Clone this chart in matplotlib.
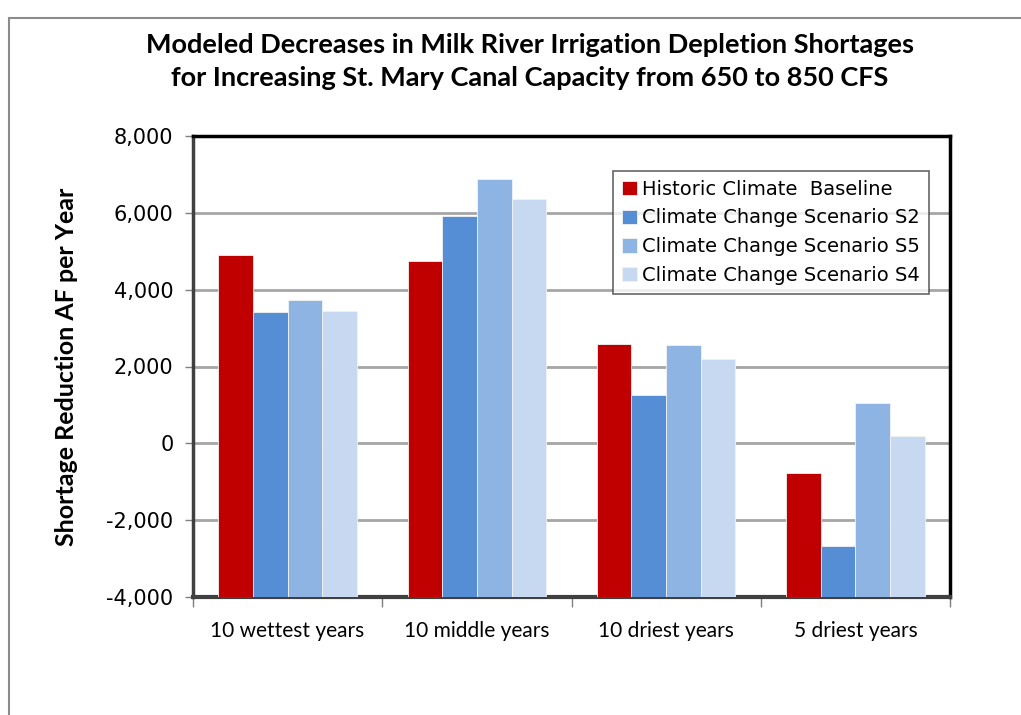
import matplotlib
matplotlib.use("Agg")
import matplotlib.pyplot as plt
import numpy as np
from matplotlib.ticker import FuncFormatter, FixedLocator

categories = ["10 wettest years", "10 middle years", "10 driest years", "5 driest years"]
series_names = ["Historic Climate  Baseline", "Climate Change Scenario S2",
                "Climate Change Scenario S5", "Climate Change Scenario S4"]
historic = [4900, 4750, 2590, -770]
s2 = [3430, 5920, 1260, -2670]
s5 = [3730, 6890, 2560, 1060]
s4 = [3450, 6350, 2190, 190]
colors = ["#C00000", "#558ED5", "#8EB4E3", "#C6D9F1"]
yticks = [-4000, -2000, 0, 2000, 4000, 6000, 8000]

ymin, ymax = -4000, 8000

fig = plt.figure(figsize=(10.21, 7.15), dpi=100)
# outer chart frame
fig.patches.append(plt.Rectangle((9/1021, -0.05), 1.1, 1 - 18/715 + 0.05, transform=fig.transFigure,
                                 fill=False, edgecolor="#8C8C8C", linewidth=1.5))

ax = fig.add_axes([193/1021, 1 - 597/715, (950-193)/1021, (597-136)/715])

data = [historic, s2, s5, s4]
n = len(categories)
x = np.arange(n)
bw = 0.183
offsets = (np.arange(4) - 1.5) * bw
for i, vals in enumerate(data):
    v = np.array(vals, dtype=float)
    ax.bar(x + offsets[i], v - ymin, bottom=ymin, width=bw, color=colors[i],
           edgecolor="#F2F2F2", linewidth=0.6, label=series_names[i], zorder=3)

ax.set_xlim(-0.5, n - 0.5)
ax.set_ylim(ymin, ymax)
ax.set_yticks(yticks)
ax.yaxis.set_major_formatter(FuncFormatter(lambda v, p: f"{int(v):,}"))
ax.grid(axis="y", color="#A6A6A6", linewidth=2, zorder=0)
ax.set_axisbelow(True)

ax.set_xticks(x)
ax.set_xticklabels(categories, fontsize=15, family="Lato")
ax.tick_params(axis="x", which="major", length=0, pad=17)
ax.xaxis.set_minor_locator(FixedLocator(np.arange(-0.5, n, 1.0)))
ax.tick_params(axis="x", which="minor", length=7, width=1, color="#808080", direction="out")
ax.tick_params(axis="y", length=6, width=1, color="#808080", labelsize=15, pad=8)
for lab in ax.get_yticklabels():
    lab.set_family("DejaVu Sans")

for side in ["top", "right"]:
    ax.spines[side].set_color("black")
    ax.spines[side].set_linewidth(2.5)
ax.spines["left"].set_color("#404040")
ax.spines["left"].set_linewidth(2.5)
ax.spines["bottom"].set_color("#404040")
ax.spines["bottom"].set_linewidth(3)

ax.set_ylabel("Shortage Reduction AF per Year", fontsize=18, fontweight="bold",
              family="Lato", labelpad=12)
ax.yaxis.set_label_coords((78-193)/(950-193), 0.5)

fig.text(530/1021, 1 - 45/715, "Modeled Decreases in Milk River Irrigation Depletion Shortages",
         ha="center", va="center", fontsize=19.5, fontweight="bold", family="Lato")
fig.text(530/1021, 1 - 78/715, "for Increasing St. Mary Canal Capacity from 650 to 850 CFS",
         ha="center", va="center", fontsize=19.5, fontweight="bold", family="Lato")

leg = ax.legend(loc="upper right", bbox_to_anchor=((929-193)/(950-193), (597-171)/(597-136)),
                prop={"family": "DejaVu Sans", "size": 14}, frameon=True, fancybox=False,
                edgecolor="#404040",
                handlelength=0.75, handleheight=0.75, handletextpad=0.3,
                labelspacing=0.5, borderpad=0.45, borderaxespad=0)
leg.get_frame().set_linewidth(1.2)
leg.set_zorder(5)

fig.savefig("out.png", dpi=100, facecolor="white")
